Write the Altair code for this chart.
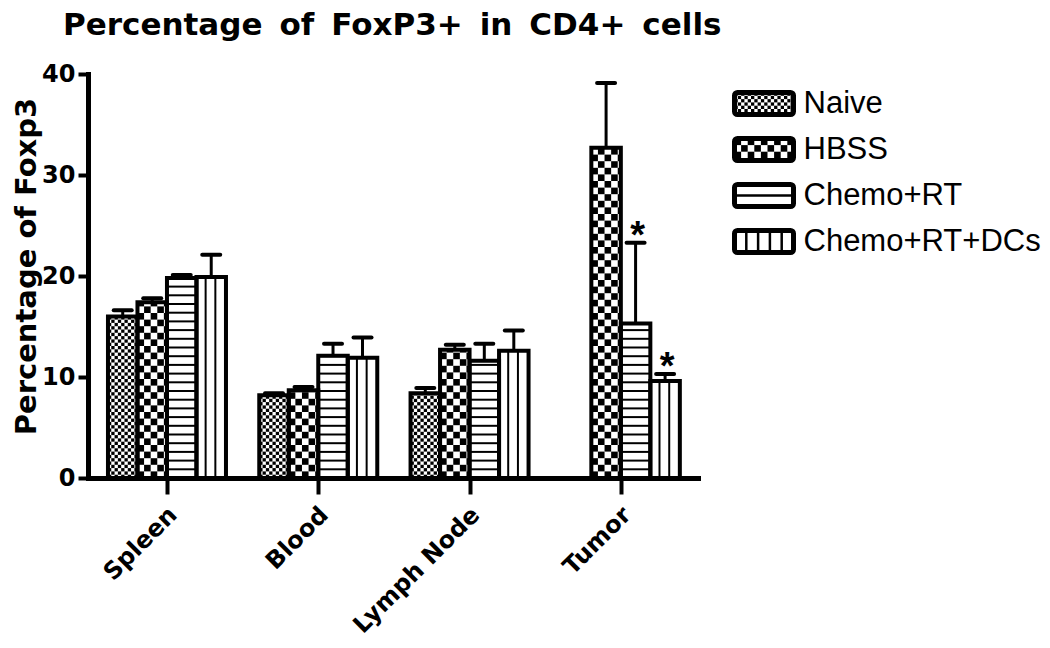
import altair as alt
import pandas as pd

# ---------------- data ----------------
tissues = ["Spleen", "Blood", "Lymph Node", "Tumor"]
groups = ["Naive", "HBSS", "Chemo+RT", "Chemo+RT+DCs"]
naive_mean = [16.0, 8.2, 8.4, None]
naive_sem = [0.6, 0.2, 0.5, None]
hbss_mean = [17.4, 8.7, 12.7, 32.7]
hbss_sem = [0.4, 0.3, 0.5, 6.4]
chemo_mean = [19.8, 12.1, 11.6, 15.3]
chemo_sem = [0.3, 1.2, 1.7, 8.0]
dcs_mean = [19.9, 11.9, 12.6, 9.6]
dcs_sem = [2.2, 2.0, 2.0, 0.7]
chemo_star = [False, False, False, True]
dcs_star = [False, False, False, True]
y_ticks = [0, 10, 20, 30, 40]
title_text = "Percentage of FoxP3+ in CD4+ cells"
y_title = "Percentage of Foxp3"

means = [naive_mean, hbss_mean, chemo_mean, dcs_mean]
sems = [naive_sem, hbss_sem, chemo_sem, dcs_sem]
stars = [[False] * 4, [False] * 4, chemo_star, dcs_star]

rows = []
for s, grp in enumerate(groups):
    for g, t in enumerate(tissues):
        if means[s][g] is None:
            continue
        rows.append({"tissue": t, "group": grp, "g": g, "s": s,
                     "mean": means[s][g], "sem": sems[s][g], "star": stars[s][g]})
bars = pd.DataFrame(rows)
legend_df = pd.DataFrame({"group": groups, "idx": list(range(len(groups)))})

# ---------------- layout / style ----------------
W, H = 610, 404
X_DOM = [-0.522, 3.51]
Y_DOM = [0, 40]
UX = (X_DOM[1] - X_DOM[0]) / W   # x units per pixel
UY = (Y_DOM[1] - Y_DOM[0]) / H   # y units per pixel
BAR = 0.195

BOLD = "DejaVu Sans"
REG = "Liberation Sans"

xs = alt.Scale(domain=X_DOM, nice=False, zero=False)
ys = alt.Scale(domain=Y_DOM, nice=False, zero=False)

x_axis = alt.Axis(
    values=[0, 1, 2, 3], labelExpr=f"{tissues}[datum.value]", title=None,
    labelAngle=-45, labelAlign="right", labelBaseline="middle",
    labelFont=BOLD, labelFontWeight="bold", labelFontSize=24, labelColor="black",
    labelPadding=17, labelOffset=6, labelFlush=False, labelOverlap=False, labelBound=False,
    tickSize=16, tickWidth=4, tickColor="black",
    domainWidth=5, domainColor="black", domainCap="square", grid=False)

y_axis = alt.Axis(
    values=y_ticks, title=y_title, titleFont=BOLD, titleFontWeight="bold",
    titleFontSize=29, titleColor="black", titleX=-53, titleY=192,
    titleAngle=270, titleAlign="center", titleBaseline="alphabetic",
    labelFont=BOLD, labelFontWeight="bold", labelFontSize=24, labelColor="black",
    labelPadding=3, labelFlush=False, labelOverlap=False,
    tickSize=10, tickWidth=4, tickColor="black",
    domainWidth=5, domainColor="black", domainCap="square", grid=False)


def MX(f):
    return alt.X(f, type="quantitative", scale=xs, axis=x_axis)


def MY(f):
    return alt.Y(f, type="quantitative", scale=ys, axis=y_axis)


def PX(f):  # legend: pixel positions inside the plot frame
    return alt.X(f, type="quantitative", scale=None)


def PY(f):
    return alt.Y(f, type="quantitative", scale=None)


def checker(chart, sel, cw, ch, X, Y, x0="xl", x1="xr", y0="y0", y1="mean"):
    return chart.transform_filter(sel).transform_calculate(
        rr=f"sequence(0, ceil((datum.{y1} - datum.{y0}) / {ch} - 0.0001))"
    ).transform_flatten(["rr"]).transform_calculate(
        cc=f"sequence(0, ceil((datum.{x1} - datum.{x0}) / {cw} - 0.0001))"
    ).transform_flatten(["cc"]).transform_filter(
        "(datum.rr + datum.cc) % 2 == 0"
    ).transform_calculate(
        tx0=f"datum.{x0} + datum.cc * {cw}",
        tx1=f"min(datum.{x0} + (datum.cc + 1) * {cw}, datum.{x1})",
        ty0=f"datum.{y0} + datum.rr * {ch}",
        ty1=f"min(datum.{y0} + (datum.rr + 1) * {ch}, datum.{y1})",
    ).mark_rect(color="black", strokeWidth=0).encode(
        x=X("tx0"), x2="tx1:Q", y=Y("ty0"), y2="ty1:Q")


def vlines(chart, sel, fracs, X, Y, width, x0="xl", x1="xr", y0="y0", y1="mean"):
    return chart.transform_filter(sel).transform_calculate(
        ff=str(fracs)
    ).transform_flatten(["ff"]).transform_calculate(
        lx=f"datum.{x0} + datum.ff * (datum.{x1} - datum.{x0})"
    ).mark_rule(color="black", strokeWidth=width).encode(
        x=X("lx"), y=Y(y0), y2=f"{y1}:Q")


def hlines(chart, sel, sp, X, Y, width, x0="xl", x1="xr", y0="y0", y1="mean"):
    return chart.transform_filter(sel).transform_calculate(
        hh=f"sequence(1, ceil((datum.{y1} - datum.{y0}) / {sp} - 0.0001))"
    ).transform_flatten(["hh"]).transform_calculate(
        ly=f"datum.{y0} + datum.hh * {sp}"
    ).mark_rule(color="black", strokeWidth=width).encode(
        x=X(x0), x2=f"{x1}:Q", y=Y("ly"))


# ---------------- main bars ----------------
base = alt.Chart(bars).transform_calculate(
    xc=f"datum.g + (datum.s - 1.5) * {BAR}"
).transform_calculate(
    xl=f"datum.xc - {BAR / 2}",
    xr=f"datum.xc + {BAR / 2}",
    y0="0",
    top="datum.mean + datum.sem",
)

fine = checker(base, "datum.s == 0", 3.3 * UX, 3.3 * UY, MX, MY)
coarse = checker(base, "datum.s == 1", 6.6 * UX, 6.6 * UY, MX, MY)
stripes = hlines(base, "datum.s == 2", 8.7 * UY, MX, MY, 2)
vert = vlines(base, "datum.s == 3", [0.31, 0.64], MX, MY, 2)

outline = base.mark_rect(fillOpacity=0, stroke="black", strokeWidth=4).encode(
    x=MX("xl"), x2="xr:Q", y=MY("y0"), y2="mean:Q")

err_line = base.mark_rule(color="black", strokeWidth=3).encode(
    x=MX("xc"), y=MY("mean"), y2="top:Q")

err_cap = base.transform_calculate(
    cl=f"datum.xc - {9 * UX}", cr=f"datum.xc + {9 * UX}"
).mark_rule(color="black", strokeWidth=4, strokeCap="round").encode(
    x=MX("cl"), x2="cr:Q", y=MY("top"))

star = base.transform_filter("datum.star").mark_text(
    text="*", font=REG, fontWeight="bold", fontSize=38, baseline="alphabetic",
    align="center", dy=5, dx=2, color="black").encode(
    x=MX("xc"), y=MY("top"))

# ---------------- legend (pixel layout to the right of the plot) ----------------
LX0, LX1 = 646.5, 705.5      # swatch left/right
LY0, LDY = 29.5, 46.0        # first swatch centre, row step
LH = 11.0                    # half swatch height

lbase = alt.Chart(legend_df).transform_calculate(
    xl=f"{LX0}", xr=f"{LX1}", yc=f"{LY0} + datum.idx * {LDY}"
).transform_calculate(
    y0=f"datum.yc - {LH}", y1=f"datum.yc + {LH}")

l_fine = checker(lbase, "datum.idx == 0", 3.3, 3.3, PX, PY, y1="y1")
l_coarse = checker(lbase, "datum.idx == 1", 6.6, 6.6, PX, PY, y1="y1")
l_stripe = hlines(lbase, "datum.idx == 2", LH, PX, PY, 2.5, y1="y1")
l_vert = vlines(lbase, "datum.idx == 3", [0.2, 0.4, 0.6, 0.8], PX, PY, 2.5, y1="y1")
l_box = lbase.mark_rect(fillOpacity=0, stroke="black", strokeWidth=5, cornerRadius=3).encode(
    x=PX("xl"), x2="xr:Q", y=PY("y0"), y2="y1:Q")
l_text = lbase.mark_text(align="left", baseline="middle", dx=10, font=REG,
                         fontSize=31, color="black").encode(
    x=PX("xr"), y=PY("yc"), text="group:N")

chart = alt.layer(
    fine, coarse, stripes, vert, outline, err_line, err_cap, star,
    l_fine, l_coarse, l_stripe, l_vert, l_box, l_text
).properties(
    width=W, height=H,
    title=alt.TitleParams(text=title_text.replace(" ", " \u2009"), font=BOLD, fontWeight="bold",
                          fontSize=31, color="black", anchor="start", frame="group",
                          dx=-25, dy=-16),
    padding={"left": 80, "top": 66, "right": 344, "bottom": 162},
    autosize=alt.AutoSizeParams(type="none"),
).configure_view(stroke=None)

chart.save("out.html", embed_options={"renderer": "svg", "actions": False})
